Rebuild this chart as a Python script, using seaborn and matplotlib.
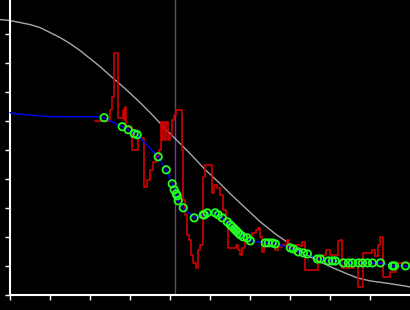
import matplotlib
matplotlib.use("Agg")
import matplotlib.pyplot as plt
import seaborn as sns
import pandas as pd

# Red raw signal (step line)
red_t = [85, 100, 102, 104, 108, 113, 114, 115, 116, 122, 128, 134, 137, 140, 143, 146, 149,
         151, 152, 153, 155, 156, 158, 160, 162, 164, 166, 172, 173, 175, 177, 179, 181, 183,
         186, 188, 190, 193, 195, 202, 204, 207, 210, 213, 216, 217, 218, 223, 226, 228, 230,
         232, 235, 238, 242, 246, 248, 250, 252, 254, 258, 262, 265, 268, 272, 277, 279, 282,
         286, 290, 292, 295, 308, 313, 316, 320, 328, 330, 332, 342, 344, 348, 353, 357, 362,
         365, 368, 370, 373, 378, 380, 386, 400]
red_v = [174, 185, 198, 242, 177, 185, 175, 188, 168, 145, 157, 108, 115, 125, 133, 139, 145,
         173, 155, 173, 155, 173, 155, 160, 175, 180, 185, 145, 95, 80, 60, 55, 40, 32,
         27, 45, 50, 118, 130, 102, 110, 107, 100, 85, 75, 68, 47, 47, 50, 45, 40,
         47, 55, 58, 62, 65, 67, 58, 43, 52, 52, 51, 45, 48, 50, 55, 47, 46,
         50, 49, 53, 25, 38, 40, 45, 40, 54, 55, 27, 27, 33, 8, 42, 42, 45,
         39, 50, 58, 18, 18, 23, 32, 32]

# Blue lead-in before the first marker
lead_t = [0, 5, 16, 28, 42, 90]
lead_v = [182, 181, 180, 179, 178, 178]

# Green markers (smoothed points)
pt_t = [94, 112, 118, 124, 127, 148, 156, 162, 164, 166, 167, 168, 173, 184, 193, 194, 197,
        205, 208, 212, 217, 220, 222, 224, 226, 228, 230, 233, 237, 240, 255, 258, 262, 265,
        280, 283, 288, 293, 297, 307, 310, 318, 322, 325, 333, 338, 342, 348, 352, 357, 362,
        370, 382, 384, 395]
pt_v = [177, 168, 165, 161, 160, 138, 125, 111, 105, 101, 99, 94, 87, 77, 80, 80, 82,
        82, 80, 77, 73, 70, 68, 66, 64, 62, 60, 58, 57, 54, 52, 52, 52, 51,
        47, 46, 43, 42, 41, 36, 36, 34, 34, 34, 32, 32, 32, 32, 32, 32, 32,
        32, 29, 29, 29]
tail_t = [400]
tail_v = [29]

# Gray fitted curve
fit_t = [-10, 0, 10, 20, 30, 40, 50, 60, 70, 80, 90, 100, 115, 130, 140, 155, 165, 180,
         195, 210, 220, 235, 250, 265, 278, 290, 300, 312, 325, 337, 347, 360, 375, 388, 400]
fit_v = [275, 274, 272, 270, 267, 262, 257, 251, 244, 236, 228, 219, 206, 192, 182, 166,
         156, 141, 125, 111, 101, 87, 73, 61, 52, 44, 38, 32, 26, 21, 17, 14, 12, 10, 8]

marker_t = 165

xticks = list(range(0, 401, 40))
yticks = list(range(0, 262, 29))

sns.set_style("dark")
plt.rcParams['font.family'] = ['DejaVu Sans']

fig = plt.figure(figsize=(4.105, 3.105), dpi=100, facecolor="black")
ax = fig.add_axes([0, 15 / 310, 1, 295 / 310])
ax.set_facecolor("black")

red_df = pd.DataFrame({"t": red_t, "v": red_v})
blue_df = pd.DataFrame({"t": lead_t + pt_t + tail_t, "v": lead_v + pt_v + tail_v})
pt_df = pd.DataFrame({"t": pt_t, "v": pt_v})
fit_df = pd.DataFrame({"t": fit_t, "v": fit_v})

ax.axvline(marker_t, color="#7a3a7a", lw=1.0, zorder=1)
sns.lineplot(data=fit_df, x="t", y="v", ax=ax, color="#a8a8a8", lw=1.0, sort=False,
             estimator=None, zorder=2)
sns.lineplot(data=red_df, x="t", y="v", ax=ax, color="#d00000", lw=1.2, sort=False,
             estimator=None, drawstyle="steps-post", zorder=3)
sns.lineplot(data=blue_df, x="t", y="v", ax=ax, color="#0000ff", lw=1.0, sort=False,
             estimator=None, zorder=4)
sns.scatterplot(data=pt_df, x="t", y="v", ax=ax, s=28, facecolor="none",
                edgecolor="#22ff22", linewidth=1.3, zorder=5)

ax.set_xlim(-10, 400)
ax.set_ylim(0, 295)
ax.set_xticks(xticks)
ax.set_yticks(yticks)
ax.set_xticklabels([])
ax.set_yticklabels([])
ax.set_xlabel("")
ax.set_ylabel("")
ax.grid(False)

for s in ["top", "right"]:
    ax.spines[s].set_visible(False)
ax.spines["left"].set_position(("data", 0))
ax.spines["bottom"].set_bounds(0, 400)
for s in ["left", "bottom"]:
    ax.spines[s].set_visible(True)
    ax.spines[s].set_color("white")
    ax.spines[s].set_linewidth(1.5)
ax.tick_params(axis="both", colors="white", length=3.5, width=1.0, direction="out",
               bottom=True, left=True)

fig.savefig("out.png", dpi=100, facecolor="black")
